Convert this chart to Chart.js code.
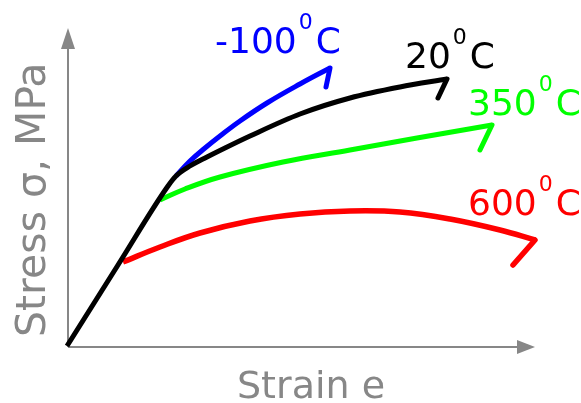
<!DOCTYPE html>
<html lang="en">
<head>
<meta charset="UTF-8">
<title>Stress-strain curves</title>
<style>
  body { margin: 0; background: #fff; }
  #wrap { width: 581px; height: 403px; position: relative; }
</style>
</head>
<body>
<div id="wrap"><canvas id="chart"></canvas></div>
<script src="https://cdn.jsdelivr.net/npm/chart.js"></script>
<script>
// curve temperatures (label text, deg C) and colours
const temps = ['20', '-100', '350', '600'];
const colours = ['#000000', '#0000ff', '#00ff00', '#ff0000'];

// strain / stress (arbitrary units, the axes have no ticks)
const strain20 = [-1, 50, 100, 108, 122, 139, 157, 182, 232, 282, 332, 379];
const stress20 = [1, 82, 161, 171, 181, 190, 199, 211, 233, 249, 260, 268];
const strainM100 = [108, 122, 137, 152, 172, 199, 232, 262];
const stressM100 = [171, 186, 199, 211, 226, 244, 263, 279];
const strain350 = [92, 117, 152, 215, 282, 349, 424];
const stress350 = [147, 158, 170, 185, 197, 209, 222];
const strain600 = [55, 92, 132, 182, 232, 282, 332, 382, 432, 467];
const stress600 = [85, 100, 114, 126, 133, 136, 135, 128, 117, 107];
// short hook at the end of each curve (fracture)
const hookStrain = [370, 258, 412, 445];
const hookStress = [249, 260, 197, 82];

const xTitle = 'Strain e';
const yTitle = 'Stress σ, MPa';

const strains = [strain20, strainM100, strain350, strain600];
const stresses = [stress20, stressM100, stress350, stress600];

const toPoints = (xs, ys) => xs.map((x, i) => ({ x: x, y: ys[i] }));

const curves = strains.map((xs, i) => toPoints(xs, stresses[i]));
const lineW = [5, 5, 5, 5.5];
const datasets = [];
curves.forEach((pts, i) => {
    datasets.push({
        label: temps[i],
        data: pts,
        borderColor: colours[i],
        borderWidth: lineW[i],
        // black has the sharp elastic knee, keep it monotone
        cubicInterpolationMode: i == 0 ? 'monotone' : 'default',
        tension: 0.4,
        pointRadius: 0
    });
});
curves.forEach((pts, i) => {
    datasets.push({
        label: temps[i] + ' hook',
        data: [pts[pts.length - 1], { x: hookStrain[i], y: hookStress[i] }],
        borderColor: colours[i],
        borderWidth: lineW[i],
        borderCapStyle: 'round',
        tension: 0,
        pointRadius: 0
    });
});

const grey = '#878787';

// axes with arrow heads
const axesPlugin = {
    id: 'arrowAxes',
    beforeDatasetsDraw(chart) {
        const { ctx, scales } = chart;
        const x0 = scales.x.getPixelForValue(0);
        const y0 = scales.y.getPixelForValue(0);
        const xEnd = scales.x.getPixelForValue(467);
        const yEnd = scales.y.getPixelForValue(319);
        ctx.save();
        ctx.strokeStyle = grey;
        ctx.fillStyle = grey;
        ctx.lineWidth = 2;
        ctx.beginPath();
        ctx.moveTo(x0, y0);
        ctx.lineTo(xEnd - 16, y0);
        ctx.moveTo(x0, y0);
        ctx.lineTo(x0, yEnd + 18);
        ctx.stroke();
        ctx.beginPath();
        ctx.moveTo(xEnd, y0);
        ctx.lineTo(xEnd - 18, y0 - 7);
        ctx.lineTo(xEnd - 18, y0 + 7);
        ctx.closePath();
        ctx.fill();
        ctx.beginPath();
        ctx.moveTo(x0, yEnd);
        ctx.lineTo(x0 - 7, yEnd + 21);
        ctx.lineTo(x0 + 7, yEnd + 21);
        ctx.closePath();
        ctx.fill();
        ctx.restore();
    }
};

// temperature labels next to the curve ends, and the axis titles
const labelOffset = [[-42, -11], [-115, -15], [-24, -10], [-67, -25]];
const textPlugin = {
    id: 'texts',
    afterDatasetsDraw(chart) {
        const { ctx, scales } = chart;
        ctx.save();
        ctx.textBaseline = 'alphabetic';
        curves.forEach((pts, i) => {
            const end = pts[pts.length - 1];
            const x = scales.x.getPixelForValue(end.x) + labelOffset[i][0];
            const y = scales.y.getPixelForValue(end.y) + labelOffset[i][1];
            ctx.fillStyle = colours[i];
            ctx.font = '36px "DejaVu Sans"';
            ctx.fillText(temps[i], x, y);
            const w = ctx.measureText(temps[i]).width;
            ctx.font = '22px "DejaVu Sans"';
            ctx.fillText('0', x + w + 2, y - 24);
            const w2 = ctx.measureText('0').width;
            ctx.font = '36px "DejaVu Sans"';
            ctx.fillText('C', x + w + w2 + 5, y);
        });
        ctx.fillStyle = grey;
        ctx.font = '38px "DejaVu Sans"';
        ctx.fillText(xTitle, 237, 398);
        ctx.translate(45, 337);
        ctx.rotate(-Math.PI / 2);
        ctx.font = '41px "DejaVu Sans"';
        ctx.fillText(yTitle, 0, 0);
        ctx.restore();
    }
};

new Chart(document.getElementById('chart'), {
    type: 'scatter',
    data: { datasets: datasets },
    options: {
        responsive: true,
        maintainAspectRatio: false,
        animation: false,
        showLine: true,
        layout: { padding: 0 },
        plugins: {
            legend: { display: false },
            tooltip: { enabled: false }
        },
        scales: {
            x: { type: 'linear', min: -68, max: 513, display: false },
            y: { type: 'linear', min: -56, max: 347, display: false }
        }
    },
    plugins: [axesPlugin, textPlugin]
});
</script>
</body>
</html>
